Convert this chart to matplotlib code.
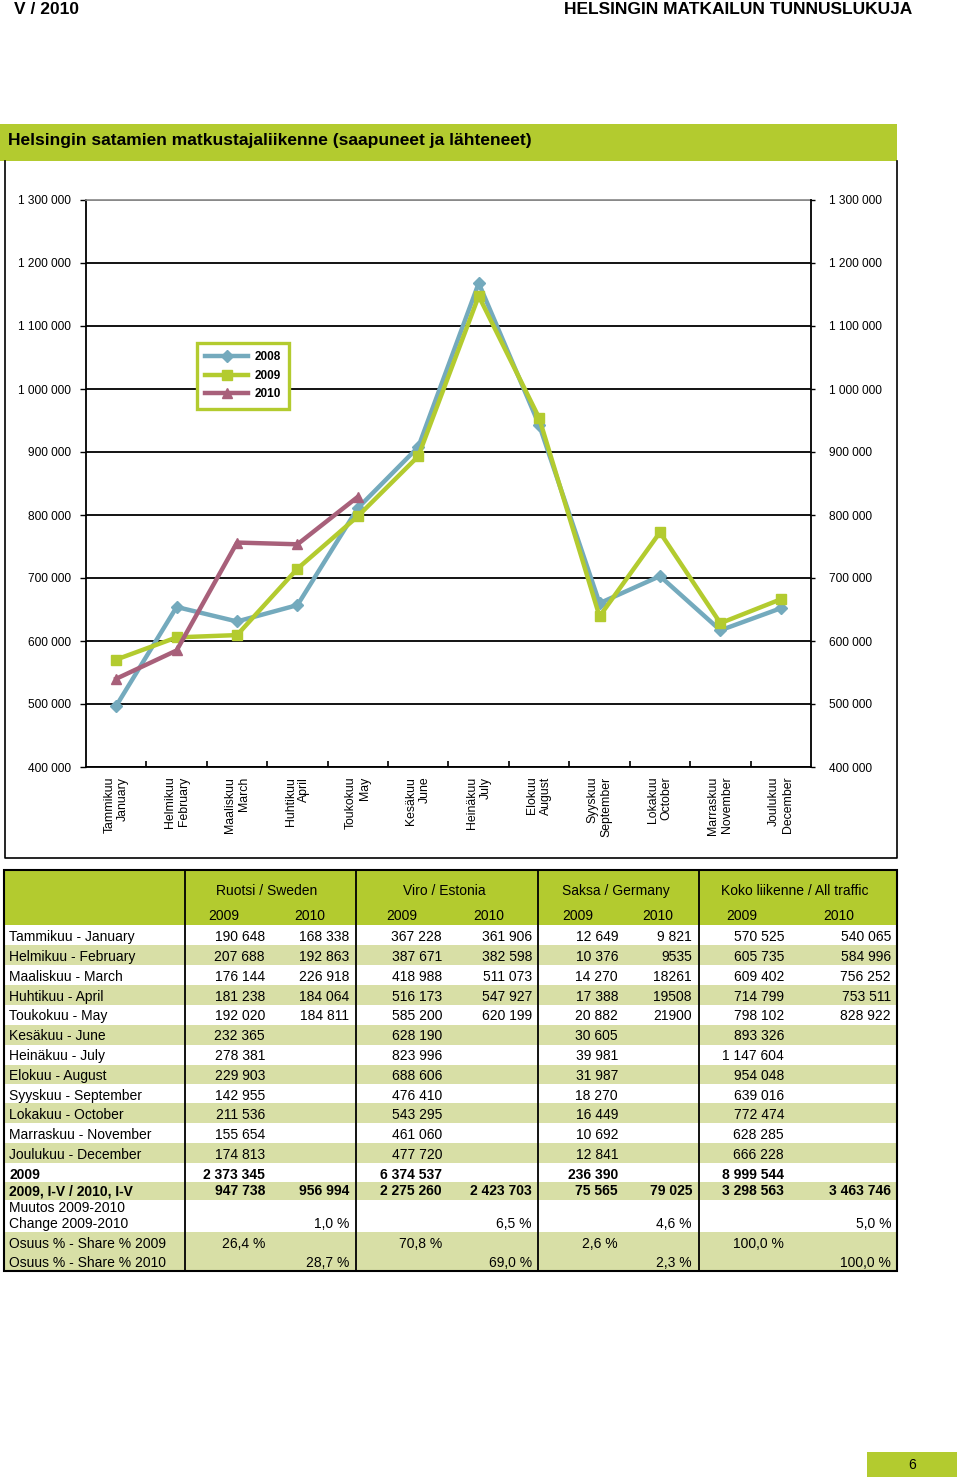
import matplotlib
matplotlib.use("Agg")
import matplotlib.pyplot as plt
from matplotlib.patches import Rectangle
from matplotlib.ticker import FuncFormatter, FixedLocator

plt.rcParams['font.family'] = ['Liberation Sans', 'DejaVu Sans']

# ---------------- data ----------------
month_ticks = ["Tammikuu\nJanuary", "Helmikuu\nFebruary", "Maaliskuu\nMarch",
               "Huhtikuu\nApril", "Toukokuu\nMay", "Kesäkuu\nJune",
               "Heinäkuu\nJuly", "Elokuu\nAugust", "Syyskuu\nSeptember",
               "Lokakuu\nOctober", "Marraskuu\nNovember", "Joulukuu\nDecember"]
series_names = ["2008", "2009", "2010"]
traffic_2008 = [497000, 654000, 631000, 657000, 811000, 908000,
                1168000, 943000, 660000, 703000, 617000, 652000]
traffic_2009 = [570525, 605735, 609402, 714799, 798102, 893326,
                1147604, 954048, 639016, 772474, 628285, 666228]
traffic_2010 = [540065, 584996, 756252, 753511, 828922]
y_ticks = [400000, 500000, 600000, 700000, 800000, 900000,
           1000000, 1100000, 1200000, 1300000]

row_labels = ["Tammikuu - January", "Helmikuu - February", "Maaliskuu - March",
              "Huhtikuu - April", "Toukokuu - May", "Kesäkuu - June",
              "Heinäkuu - July", "Elokuu - August", "Syyskuu - September",
              "Lokakuu - October", "Marraskuu - November", "Joulukuu - December"]
group_headers = ["Ruotsi / Sweden", "Viro / Estonia", "Saksa / Germany",
                 "Koko liikenne / All traffic"]
year_headers = ["2009", "2010"]

sweden_2009 = [190648, 207688, 176144, 181238, 192020, 232365,
               278381, 229903, 142955, 211536, 155654, 174813]
sweden_2010 = [168338, 192863, 226918, 184064, 184811]
estonia_2009 = [367228, 387671, 418988, 516173, 585200, 628190,
                823996, 688606, 476410, 543295, 461060, 477720]
estonia_2010 = [361906, 382598, 511073, 547927, 620199]
germany_2009 = [12649, 10376, 14270, 17388, 20882, 30605,
                39981, 31987, 18270, 16449, 10692, 12841]
germany_2010_text = ["9 821", "9535", "18261", "19508", "21900"]

year_totals_2009 = [2373345, 6374537, 236390, 8999544]
jan_may_2009 = [947738, 2275260, 75565, 3298563]
jan_may_2010 = [956994, 2423703, 79025, 3463746]
change_pct = ["1,0 %", "6,5 %", "4,6 %", "5,0 %"]
share_2009 = ["26,4 %", "70,8 %", "2,6 %", "100,0 %"]
share_2010 = ["28,7 %", "69,0 %", "2,3 %", "100,0 %"]


def fmt(v):
    return f"{int(v):,}".replace(",", " ")


# ---------------- style ----------------
GREEN = "#B3CB2F"
BAND = "#D8DFA6"
C08, C09, C10 = "#74AABD", "#B3CB2F", "#A8607A"

W, H = 960, 1477
fig = plt.figure(figsize=(W / 100, H / 100), dpi=100)

ov = fig.add_axes([0, 0, 1, 1], zorder=0)
ov.set_xlim(0, W)
ov.set_ylim(H, 0)
ov.axis("off")

# page header
ov.text(14, 8.5, "V / 2010", fontsize=12.5, fontweight="bold", va="center_baseline", ha="left")
ov.text(912, 8.5, "HELSINGIN MATKAILUN TUNNUSLUKUJA", fontsize=12.5, fontweight="bold",
        va="center_baseline", ha="right")

# title bar
ov.add_patch(Rectangle((0, 124), 897, 37, color=GREEN, lw=0))
ov.text(8, 140, "Helsingin satamien matkustajaliikenne (saapuneet ja lähteneet)",
        fontsize=12.5, fontweight="bold", va="center", ha="left")

# chart frame (left, right, bottom)
ov.plot([4.5, 4.5, 896.5, 896.5], [161, 857.5, 857.5, 161], color="black", lw=1.2)

# ---------------- chart ----------------
ax = fig.add_axes([86 / W, 1 - 767 / H, (811 - 86) / W, (767 - 200) / H], zorder=2)
ax.set_facecolor("none")
x = list(range(len(month_ticks)))
ax.plot(x, traffic_2008, color=C08, lw=3.2, marker="D", ms=6.5, label=series_names[0], zorder=3)
ax.plot(x, traffic_2009, color=C09, lw=3.2, marker="s", ms=7.5, label=series_names[1], zorder=4)
ax.plot(x[:len(traffic_2010)], traffic_2010, color=C10, lw=3.2, marker="^", ms=7.5,
        label=series_names[2], zorder=5)

ax.set_xlim(-0.5, len(month_ticks) - 0.5)
ax.set_ylim(y_ticks[0], y_ticks[-1])
ax.set_yticks(y_ticks)
ax.yaxis.set_major_formatter(FuncFormatter(lambda v, p: fmt(v)))
ax.yaxis.grid(True, color="black", lw=1.3)
ax.set_axisbelow(True)
ax.tick_params(axis="y", direction="out", length=4, width=1, pad=7, labelsize=8.6)
ax.set_xticks(x)
ax.set_xticklabels(month_ticks, rotation=90, ha="center", va="top",
                   multialignment="right", fontsize=8.8)
ax.tick_params(axis="x", which="major", length=0, pad=7)
ax.xaxis.set_minor_locator(FixedLocator([i + 0.5 for i in range(len(month_ticks) - 1)]))
ax.tick_params(axis="x", which="minor", direction="in", length=4, width=1.2)
for s in ["left", "bottom"]:
    ax.spines[s].set_color("black")
    ax.spines[s].set_linewidth(1.3)
ax.spines["right"].set_visible(False)
ax.spines["top"].set_color("#888888")
ax.spines["top"].set_linewidth(1.2)
gl = ax.get_ygridlines()
gl[-1].set_color("#888888")

ax2 = ax.twinx()
ax2.set_ylim(y_ticks[0], y_ticks[-1])
ax2.set_yticks(y_ticks)
ax2.yaxis.set_major_formatter(FuncFormatter(lambda v, p: fmt(v)))
ax2.tick_params(axis="y", direction="out", length=3, width=1, pad=10, labelsize=8.6)
for s in ["left", "top", "bottom"]:
    ax2.spines[s].set_visible(False)
ax2.spines["right"].set_color("black")
ax2.spines["right"].set_linewidth(1.3)

leg = ax.legend(loc="upper left", bbox_to_anchor=(197 / W, 1 - 343 / H),
                bbox_transform=fig.transFigure, borderaxespad=0, fancybox=False,
                edgecolor=GREEN, framealpha=1, prop={"weight": "bold", "size": 8.5},
                handlelength=3.6, handletextpad=0.6, labelspacing=0.55, borderpad=0.7)
leg.get_frame().set_linewidth(2.4)
leg.set_zorder(10)

# ---------------- table ----------------
T_L, T_R, T_T, T_B = 4, 897, 870, 1271
ov.add_patch(Rectangle((T_L, T_T), T_R - T_L, 925 - T_T, color=GREEN, lw=0))
bands = [(945, 965), (985, 1005), (1025, 1045), (1065, 1084), (1103, 1123),
         (1143, 1163), (1182, 1200), (1232, 1271)]
for a, b in bands:
    ov.add_patch(Rectangle((T_L, a), T_R - T_L, b - a, color=BAND, lw=0))
ov.add_patch(Rectangle((T_L, T_T), T_R - T_L, T_B - T_T, fill=False, ec="black", lw=1.5))
for vx in [185, 356, 538, 699]:
    ov.plot([vx, vx], [T_T, T_B], color="black", lw=1.3)

FS = 10
group_x = [267, 444, 616, 795]
for gx, g in zip(group_x, group_headers):
    ov.text(gx, 891, g, fontsize=FS, ha="center", va="center")
year_x = [224, 310, 402, 489, 578, 658, 742, 839]
for i, yx in enumerate(year_x):
    ov.text(yx, 916, year_headers[i % 2], fontsize=FS, ha="center", va="center")

row_y = [937, 957, 977, 997, 1016, 1036, 1056, 1076, 1096, 1115, 1135, 1155]
col09 = [265, 442, 618, 784]
col10 = [349, 532, 692, 891]
all_2009 = traffic_2009
all_2010 = traffic_2010
cols09 = [sweden_2009, estonia_2009, germany_2009, all_2009]
cols10 = [[fmt(v) for v in sweden_2010], [fmt(v) for v in estonia_2010],
          germany_2010_text, [fmt(v) for v in all_2010]]

for r, (ry, lab) in enumerate(zip(row_y, row_labels)):
    ov.text(9, ry, lab, fontsize=FS, ha="left", va="center")
    for c in range(4):
        ov.text(col09[c], ry, fmt(cols09[c][r]), fontsize=FS, ha="right", va="center")
        if r < len(cols10[c]):
            ov.text(col10[c], ry, cols10[c][r], fontsize=FS, ha="right", va="center")

ov.text(9, 1175, "2009", fontsize=FS, fontweight="bold", ha="left", va="center")
ov.text(9, 1191, "2009, I-V / 2010, I-V", fontsize=FS, fontweight="bold", ha="left", va="center")
ov.text(9, 1208, "Muutos 2009-2010", fontsize=FS, ha="left", va="center")
ov.text(9, 1224, "Change 2009-2010", fontsize=FS, ha="left", va="center")
ov.text(9, 1244, "Osuus % - Share % 2009", fontsize=FS, ha="left", va="center")
ov.text(9, 1263, "Osuus % - Share % 2010", fontsize=FS, ha="left", va="center")
for c in range(4):
    ov.text(col09[c], 1175, fmt(year_totals_2009[c]), fontsize=FS, fontweight="bold",
            ha="right", va="center")
    ov.text(col09[c], 1191, fmt(jan_may_2009[c]), fontsize=FS, fontweight="bold",
            ha="right", va="center")
    ov.text(col10[c], 1191, fmt(jan_may_2010[c]), fontsize=FS, fontweight="bold",
            ha="right", va="center")
    ov.text(col10[c], 1224, change_pct[c], fontsize=FS, ha="right", va="center")
    ov.text(col09[c], 1244, share_2009[c], fontsize=FS, ha="right", va="center")
    ov.text(col10[c], 1263, share_2010[c], fontsize=FS, ha="right", va="center")

# page number
ov.add_patch(Rectangle((867, 1452), 90, 25, color=GREEN, lw=0))
ov.text(912, 1465, "6", fontsize=10, ha="center", va="center")

fig.savefig("out.png", dpi=100)
